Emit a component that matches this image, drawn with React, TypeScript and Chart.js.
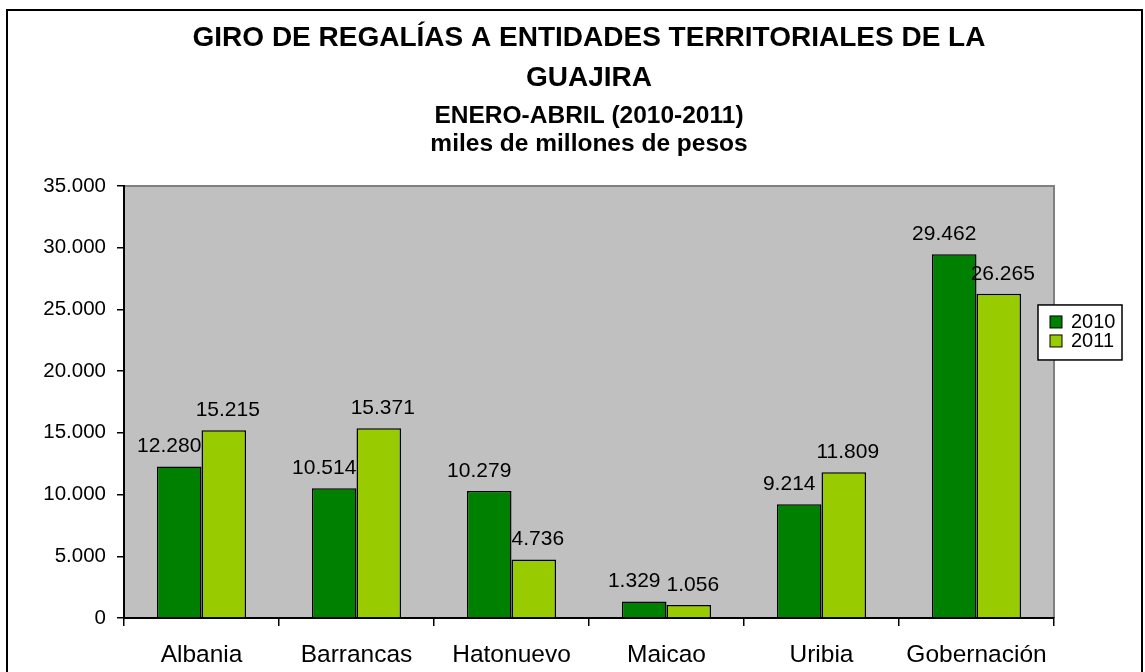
import React, { useEffect, useRef } from 'react';
import { Chart, registerables } from 'chart.js';

Chart.register(...registerables);

const categories = ['Albania', 'Barrancas', 'Hatonuevo', 'Maicao', 'Uribia', 'Gobernación'];
const values2010 = [12280, 10514, 10279, 1329, 9214, 29462];
const values2011 = [15215, 15371, 4736, 1056, 11809, 26265];
const seriesLabels = ['2010', '2011'];
const seriesColors = ['#008000', '#99CC00'];
const titleLines = ['GIRO DE REGALÍAS A ENTIDADES TERRITORIALES DE LA', 'GUAJIRA'];
const subtitleLines = ['ENERO-ABRIL (2010-2011)', 'miles de millones de pesos'];
const yMin = 0;
const yMax = 35000;
const yStep = 5000;

const FONT = "'Liberation Sans', Arial, Helvetica, sans-serif";

const fmt = (v: number) => String(Math.round(v)).replace(/\B(?=(\d{3})+(?!\d))/g, '.');

const framePlugin = {
  id: 'frame',
  beforeDraw(chart: any) {
    const { ctx, chartArea: a } = chart;
    ctx.save();
    ctx.strokeStyle = '#000';
    ctx.lineWidth = 2;
    ctx.strokeRect(7, 10, 1135, 700);
    ctx.fillStyle = '#C0C0C0';
    ctx.fillRect(a.left, a.top, a.right - a.left, a.bottom - a.top);
    ctx.strokeStyle = '#808080';
    ctx.lineWidth = 2;
    ctx.beginPath();
    ctx.moveTo(a.left, a.top);
    ctx.lineTo(a.right, a.top);
    ctx.lineTo(a.right, a.bottom);
    ctx.stroke();
    ctx.restore();
  },
};

// per-series horizontal nudge of the value labels (Excel-like placement)
const labelNudge = [-10, 4];

const labelsPlugin = {
  id: 'valueLabels',
  afterDatasetsDraw(chart: any) {
    const { ctx } = chart;
    ctx.save();
    ctx.font = `21px ${FONT}`;
    ctx.fillStyle = '#000';
    ctx.textAlign = 'center';
    ctx.textBaseline = 'middle';
    chart.data.datasets.forEach((ds: any, di: number) => {
      const meta = chart.getDatasetMeta(di);
      meta.data.forEach((el: any, i: number) => {
        ctx.fillText(fmt(ds.data[i]), el.x + labelNudge[di], el.y - 20);
      });
    });
    ctx.restore();
  },
};

const legendPlugin = {
  id: 'boxLegend',
  afterDraw(chart: any) {
    const { ctx, chartArea: a } = chart;
    const lx = a.right - 16;
    const ly = a.top + 119;
    const w = 84;
    const h = 55;
    ctx.save();
    ctx.fillStyle = '#fff';
    ctx.fillRect(lx, ly, w, h);
    ctx.strokeStyle = '#000';
    ctx.lineWidth = 1.5;
    ctx.strokeRect(lx, ly, w, h);
    ctx.font = `20px ${FONT}`;
    ctx.textBaseline = 'middle';
    ctx.textAlign = 'left';
    chart.data.datasets.forEach((ds: any, i: number) => {
      const sy = ly + 11 + i * 19;
      ctx.fillStyle = ds.backgroundColor;
      ctx.fillRect(lx + 12, sy, 12, 12);
      ctx.strokeStyle = '#000';
      ctx.lineWidth = 1;
      ctx.strokeRect(lx + 12, sy, 12, 12);
      ctx.fillStyle = '#000';
      ctx.fillText(ds.label, lx + 33, sy + 6.5);
    });
    ctx.restore();
  },
};

export default function App() {
  const canvasRef = useRef<HTMLCanvasElement | null>(null);

  useEffect(() => {
    if (!canvasRef.current) return;
    const chart = new Chart(canvasRef.current, {
      type: 'bar',
      data: {
        labels: categories,
        datasets: [
          {
            label: seriesLabels[0],
            data: values2010,
            backgroundColor: seriesColors[0],
            borderColor: '#000',
            borderWidth: 1.5,
            categoryPercentage: 0.575,
            barPercentage: 1,
          },
          {
            label: seriesLabels[1],
            data: values2011,
            backgroundColor: seriesColors[1],
            borderColor: '#000',
            borderWidth: 1.5,
            categoryPercentage: 0.575,
            barPercentage: 1,
          },
        ],
      },
      options: {
        responsive: false,
        animation: false,
        devicePixelRatio: 1,
        layout: { padding: { left: 0, right: 91, top: 0, bottom: 0 } },
        plugins: {
          legend: { display: false },
          tooltip: { enabled: false },
          title: {
            display: true,
            fullSize: false,
            text: titleLines,
            color: '#000',
            font: { family: FONT, size: 28, weight: 'bold', lineHeight: 1.41 },
            padding: { top: 19, bottom: 0 },
          },
          subtitle: {
            display: true,
            fullSize: false,
            text: subtitleLines,
            color: '#000',
            font: { family: FONT, size: 24.5, weight: 'bold', lineHeight: 1.1224 },
            padding: { top: 5, bottom: 28 },
          },
        },
        scales: {
          x: {
            offset: true,
            grid: {
              display: true,
              offset: true,
              drawOnChartArea: false,
              drawTicks: true,
              tickLength: 8,
              color: '#000',
              lineWidth: 1.5,
            },
            border: { display: true, color: '#000', width: 2 },
            ticks: {
              color: '#000',
              font: { family: FONT, size: 24.5 },
              padding: 15,
              maxRotation: 0,
              autoSkip: false,
            },
            afterFit: (s: any) => {
              s.height = 54;
            },
          },
          y: {
            min: yMin,
            max: yMax,
            grid: {
              display: true,
              drawOnChartArea: false,
              drawTicks: true,
              tickLength: 7,
              color: '#000',
              lineWidth: 1.5,
            },
            border: { display: true, color: '#000', width: 2 },
            ticks: {
              stepSize: yStep,
              color: '#000',
              font: { family: FONT, size: 20.5 },
              padding: 11,
              callback: (v: any) => fmt(Number(v)),
            },
            afterFit: (s: any) => {
              s.width = 124;
            },
          },
        },
      },
      plugins: [framePlugin, labelsPlugin, legendPlugin],
    });
    return () => chart.destroy();
  }, []);

  return (
    <div style={{ position: 'absolute', left: 0, top: 0, width: 1145, height: 672 }}>
      <canvas ref={canvasRef} width={1145} height={672} style={{ display: 'block' }} />
    </div>
  );
}
